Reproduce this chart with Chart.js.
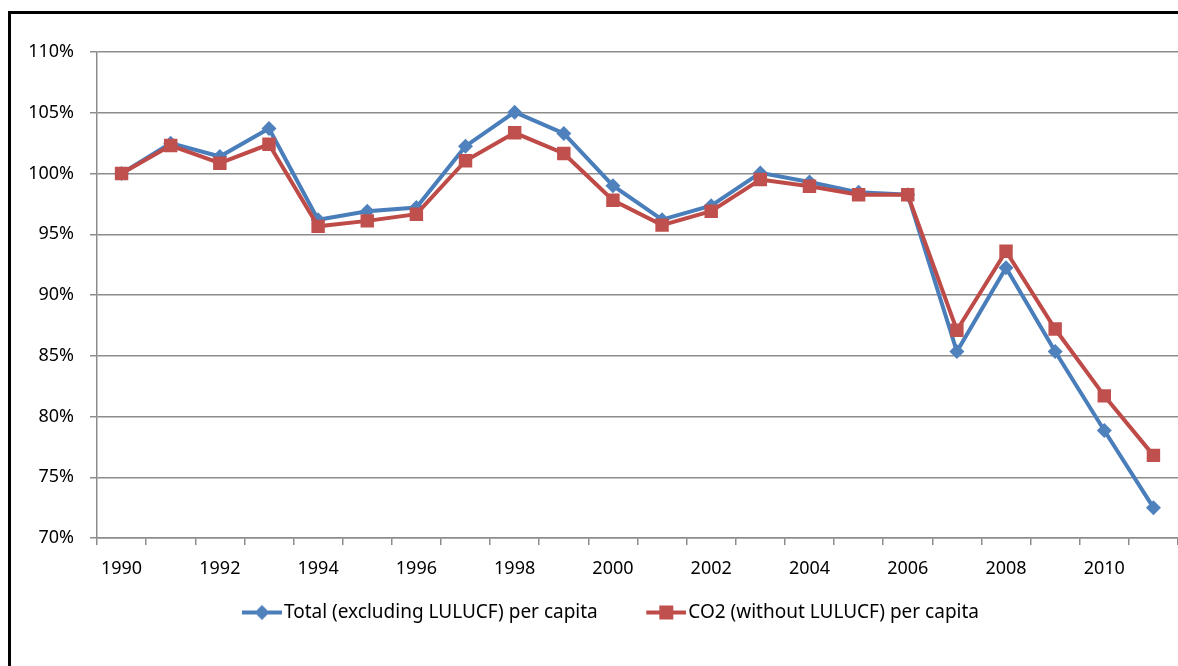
<!DOCTYPE html>
<html>
<head>
<meta charset="utf-8">
<title>Emissions per capita index</title>
<script src="https://cdn.jsdelivr.net/npm/chart.js@4.4.1/dist/chart.umd.min.js"></script>
<style>
    html, body { margin: 0; padding: 0; background: #fff; overflow: hidden; }
    #wrap { position: relative; width: 1178px; height: 666px; overflow: hidden; }
    #frame { position: absolute; left: 8px; top: 11px; width: 1400px; height: 900px; border: 3px solid #000; box-sizing: border-box; }
    #chart { position: absolute; left: 0; top: 0; }
</style>
</head>
<body>
<div id="wrap">
    <div id="frame"></div>
    <canvas id="chart" width="1178" height="666"></canvas>
</div>
<script>
// Index, 1990 = 100%
var years = ['1990', '1991', '1992', '1993', '1994', '1995', '1996', '1997', '1998', '1999', '2000',
    '2001', '2002', '2003', '2004', '2005', '2006', '2007', '2008', '2009', '2010', '2011'];

var totalPerCapita = [100, 102.5, 101.4, 103.7, 96.2, 96.9, 97.2, 102.25, 105.05, 103.3, 99.0,
    96.2, 97.35, 100.05, 99.3, 98.45, 98.25, 85.35, 92.25, 85.35, 78.85, 72.5];

var co2PerCapita = [100, 102.3, 100.85, 102.4, 95.65, 96.1, 96.65, 101.05, 103.35, 101.65, 97.8,
    95.75, 96.9, 99.5, 98.95, 98.25, 98.25, 87.1, 93.6, 87.2, 81.7, 76.8];

var seriesNames = ['Total (excluding LULUCF) per capita', 'CO2 (without LULUCF) per capita'];

var yMin = 70;
var yMax = 110;
var yStep = 5;

var FONT = { family: '"Noto Sans", Lato, sans-serif', size: 18 };
var LEGEND_FONT = { family: '"Noto Sans", Lato, sans-serif', size: 19 };
var TEXT = '#000';
var GRID = '#8c8c8c';

var BLUE_LINE = '#4a7ebb', BLUE_FILL = '#4f81bd';
var RED_LINE = '#be4b48', RED_FILL = '#c0504d';

// legend symbol: line with the marker in the middle, transparent margin on the left
// so the gap between legend entries comes out right
function makeLegendSymbol(lineColor, fillColor, shape) {
    var c = document.createElement('canvas');
    c.width = 86;
    c.height = 18;
    var ctx = c.getContext('2d');
    ctx.strokeStyle = lineColor;
    ctx.lineWidth = 4;
    ctx.beginPath();
    ctx.moveTo(46, 9);
    ctx.lineTo(86, 9);
    ctx.stroke();
    ctx.fillStyle = fillColor;
    if (shape === 'diamond') {
        ctx.beginPath();
        ctx.moveTo(66, 1.5); ctx.lineTo(73.5, 9); ctx.lineTo(66, 16.5); ctx.lineTo(58.5, 9);
        ctx.closePath();
        ctx.fill();
    } else {
        ctx.fillRect(59, 2, 14, 14);
    }
    return c;
}

var legendSymbols = [
    makeLegendSymbol(BLUE_LINE, BLUE_FILL, 'diamond'),
    makeLegendSymbol(RED_LINE, RED_FILL, 'square')
];

var ctx = document.getElementById('chart').getContext('2d');
var chart = new Chart(ctx, {
    type: 'line',
    data: {
        labels: years,
        datasets: [{
            label: seriesNames[0],
            data: totalPerCapita,
            borderColor: BLUE_LINE,
            backgroundColor: BLUE_FILL,
            borderWidth: 4,
            pointStyle: 'rectRot',
            pointRadius: 7.5,
            pointBorderWidth: 0,
            tension: 0,
            order: 1
        }, {
            label: seriesNames[1],
            data: co2PerCapita,
            borderColor: RED_LINE,
            backgroundColor: RED_FILL,
            borderWidth: 4,
            pointStyle: 'rect',
            pointRadius: 9.5,
            pointBorderWidth: 0,
            tension: 0,
            order: 0
        }]
    },
    options: {
        responsive: false,
        animation: false,
        layout: { autoPadding: false, padding: { left: 4.5, top: 52, right: 0, bottom: 34 } },
        plugins: {
            tooltip: { enabled: false },
            legend: {
                position: 'bottom',
                labels: {
                    usePointStyle: true,
                    pointStyleWidth: 71,
                    padding: 10,
                    color: TEXT,
                    font: LEGEND_FONT,
                    generateLabels: function (chart) {
                        var items = Chart.defaults.plugins.legend.labels.generateLabels(chart);
                        items.sort(function (a, b) { return a.datasetIndex - b.datasetIndex; });
                        items.forEach(function (it) { it.pointStyle = legendSymbols[it.datasetIndex]; });
                        return items;
                    }
                }
            }
        },
        scales: {
            x: {
                offset: true,
                grid: { offset: true, drawOnChartArea: false, drawTicks: true, tickLength: 7, color: GRID, lineWidth: 1.5 },
                border: { color: GRID, width: 1.5 },
                ticks: {
                    autoSkip: false,
                    maxRotation: 0,
                    padding: 13,
                    color: TEXT,
                    font: FONT,
                    callback: function (v, i) { return i % 2 === 0 ? years[i] : ''; }
                },
                afterFit: function (scale) {
                    scale.height = 55;
                    scale.paddingLeft = 0;
                    scale.paddingRight = 0;
                }
            },
            y: {
                min: yMin,
                max: yMax,
                grid: { color: GRID, lineWidth: 1.5, tickLength: 7 },
                border: { color: GRID, width: 1.5 },
                ticks: {
                    stepSize: yStep,
                    padding: 16,
                    color: TEXT,
                    font: FONT,
                    callback: function (v) { return v + '%'; }
                },
                afterFit: function (scale) {
                    scale.width = 92.5;
                    scale.paddingTop = 0;
                    scale.paddingBottom = 0;
                }
            }
        }
    }
});
</script>
</body>
</html>
